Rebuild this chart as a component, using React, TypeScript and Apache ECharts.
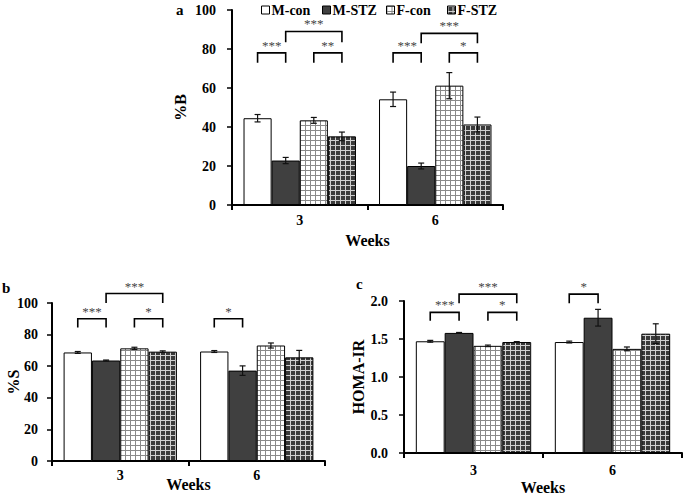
import React, { useEffect, useRef } from 'react';
import * as echarts from 'echarts';

const weeks = ['3', '6'];
const groups = ['M-con', 'M-STZ', 'F-con', 'F-STZ'];

// Panel a: %B (mean per group, for weeks 3 and 6)
const pctBMean = [[44.5, 54.2], [22.8, 20.0], [43.4, 61.2], [35.2, 41.3]];
const pctBErr = [[1.9, 3.7], [1.6, 1.5], [1.5, 6.7], [2.2, 3.8]];
// Panel b: %S
const pctSMean = [[68.7, 69.3], [63.6, 57.2], [71.3, 73.1], [69.2, 65.6]];
const pctSErr = [[0.6, 0.6], [0.3, 3.0], [0.7, 1.6], [0.5, 4.4]];
// Panel c: HOMA-IR
const homaMean = [[1.47, 1.46], [1.58, 1.78], [1.41, 1.37], [1.46, 1.57]];
const homaErr = [[0.012, 0.012], [0.006, 0.11], [0.01, 0.025], [0.006, 0.13]];

// significance brackets: [week index, bar from, bar to, top, leg end, label]
const bracketsA: [number, number, number, number, number, string][] = [
  [0, 0, 1, 78, 73, '***'], [0, 2, 3, 78, 73, '**'], [0, 1, 3, 89, 83.5, '***'],
  [1, 0, 1, 78, 73, '***'], [1, 2, 3, 78, 73, '*'], [1, 1, 3, 88, 83, '***'],
];
const bracketsB: [number, number, number, number, number, string][] = [
  [0, 0, 1, 90, 84.5, '***'], [0, 2, 3, 90, 84.5, '*'], [0, 1, 3, 106, 100, '***'],
  [1, 0, 1, 90, 84.5, '*'],
];
const bracketsC: [number, number, number, number, number, string][] = [
  [0, 0, 1, 1.85, 1.74, '***'], [0, 2, 3, 1.85, 1.74, '*'], [0, 1, 3, 2.09, 1.97, '***'],
  [1, 0, 1, 2.09, 1.97, '*'],
];

const GAP = 0.17;
const FONT = '"Liberation Serif", "Times New Roman", serif';

function makePattern(bg: string, line: string) {
  const c = document.createElement('canvas');
  c.width = 5; c.height = 5;
  const ctx = c.getContext('2d')!;
  ctx.fillStyle = bg; ctx.fillRect(0, 0, 5, 5);
  ctx.fillStyle = line;
  ctx.fillRect(0, 0, 5, 1);
  ctx.fillRect(0, 0, 1, 5);
  return { image: c, repeat: 'repeat', imageWidth: 5, imageHeight: 5 } as any;
}

export default function App() {
  const ref = useRef<HTMLDivElement>(null);
  useEffect(() => {
    if (!ref.current) return;
    const chart = echarts.init(ref.current, undefined, { renderer: 'svg' });
    const fills: any[] = [
      '#ffffff',
      '#404040',
      makePattern('#ffffff', '#8a8a8a'),
      makePattern('#3a3a3a', '#d0d0d0'),
    ];
    const panels = [
      { mean: pctBMean, err: pctBErr, br: bracketsA, grid: { left: 232, top: 10, width: 271, height: 195 },
        name: '%B', nameGap: 44, max: 100, interval: 20, dec: 0, lblMargin: 8, weeksGap: 27, yMargin: 16 },
      { mean: pctSMean, err: pctSErr, br: bracketsB, grid: { left: 52, top: 303, width: 273, height: 158 },
        name: '%S', nameGap: 31, max: 100, interval: 20, dec: 0, lblMargin: 7, weeksGap: 15, yMargin: 14 },
      { mean: homaMean, err: homaErr, br: bracketsC, grid: { left: 404, top: 301, width: 278, height: 152 },
        name: 'HOMA-IR', nameGap: 38, max: 2, interval: 0.5, dec: 1, lblMargin: 10, weeksGap: 26, yMargin: 16 },
    ];
    const grid: any[] = [];
    const xAxis: any[] = [];
    const yAxis: any[] = [];
    const series: any[] = [];
    panels.forEach((p, pi) => {
      grid.push({ ...p.grid, containLabel: false, outerBoundsMode: 'none' });
      xAxis.push({
        type: 'category', gridIndex: pi, data: weeks,
        name: 'Weeks', nameLocation: 'middle', nameGap: p.weeksGap, nameMoveOverlap: false,
        nameTextStyle: { fontFamily: FONT, fontWeight: 'bold', fontSize: 16, color: '#000' },
        axisLine: { lineStyle: { color: '#000', width: 2 } },
        axisTick: { show: true, alignWithLabel: false, length: 5, lineStyle: { color: '#000', width: 2 } },
        axisLabel: { fontFamily: FONT, fontWeight: 'bold', fontSize: 14, color: '#000', margin: p.lblMargin },
        splitLine: { show: false },
      });
      yAxis.push({
        type: 'value', gridIndex: pi, min: 0, max: p.max, interval: p.interval,
        name: p.name, nameLocation: 'middle', nameGap: p.nameGap, nameMoveOverlap: false,
        nameTextStyle: { fontFamily: FONT, fontWeight: 'bold', fontSize: 16, color: '#000' },
        axisLine: { show: true, lineStyle: { color: '#000', width: 2 } },
        axisTick: { show: true, length: 5, lineStyle: { color: '#000', width: 1.5 } },
        axisLabel: { fontFamily: FONT, fontWeight: 'bold', fontSize: 14, color: '#000', margin: p.yMargin,
          formatter: (v: number) => v.toFixed(p.dec) },
        splitLine: { show: false },
      });
      groups.forEach((g, gi) => {
        series.push({
          type: 'bar', name: g, xAxisIndex: pi, yAxisIndex: pi,
          data: p.mean[gi], barGap: '0%', barCategoryGap: GAP * 100 + '%',
          itemStyle: { color: fills[gi], borderColor: '#000', borderWidth: 1 },
          z: 2,
        });
      });
      const errData: number[][] = [];
      groups.forEach((g, gi) => {
        weeks.forEach((w, wi) => {
          errData.push([wi, gi, p.mean[gi][wi] - p.err[gi][wi], p.mean[gi][wi] + p.err[gi][wi]]);
        });
      });
      series.push({
        type: 'custom', xAxisIndex: pi, yAxisIndex: pi, z: 4, silent: true,
        encode: { x: 0, y: 2 },
        data: errData,
        renderItem: (params: any, api: any) => {
          const cat = api.value(0), idx = api.value(1), lo = api.value(2), hi = api.value(3);
          const band = api.size([1, 0])[0];
          const bw = (band * (1 - GAP)) / 4;
          const pLo = api.coord([cat, lo]);
          const pHi = api.coord([cat, hi]);
          const x = pLo[0] + (idx - 1.5) * bw;
          const cap = 3;
          const st = { stroke: '#111', lineWidth: 1.2 };
          return {
            type: 'group', children: [
              { type: 'line', shape: { x1: x, y1: pLo[1], x2: x, y2: pHi[1] }, style: st },
              { type: 'line', shape: { x1: x - cap, y1: pLo[1], x2: x + cap, y2: pLo[1] }, style: st },
              { type: 'line', shape: { x1: x - cap, y1: pHi[1], x2: x + cap, y2: pHi[1] }, style: st },
            ],
          };
        },
      });
      const br = p.br;
      series.push({
        type: 'custom', xAxisIndex: pi, yAxisIndex: pi, z: 5, silent: true, clip: false,
        encode: { x: 0, y: 1 },
        data: br.map((b) => [b[0], b[3]]),
        renderItem: (params: any, api: any) => {
          const b = br[params.dataIndex];
          const band = api.size([1, 0])[0];
          const bw = (band * (1 - GAP)) / 4;
          const pTop = api.coord([b[0], b[3]]);
          const pLeg = api.coord([b[0], b[4]]);
          const x1 = pTop[0] + (b[1] - 1.5) * bw;
          const x2 = pTop[0] + (b[2] - 1.5) * bw;
          return {
            type: 'group', children: [
              { type: 'polyline', shape: { points: [[x1, pLeg[1]], [x1, pTop[1]], [x2, pTop[1]], [x2, pLeg[1]]] },
                style: { stroke: '#000', lineWidth: 1.6, fill: null } },
              { type: 'text', x: (x1 + x2) / 2, y: pTop[1] - 1,
                style: { text: b[5], fontFamily: FONT, fontSize: 13, fill: '#444', align: 'center', verticalAlign: 'bottom' } },
            ],
          };
        },
      });
    });
    const legendLefts = [261, 322, 386, 447];
    const legend = groups.map((g, gi) => ({
      data: [g], left: legendLefts[gi], top: 3, padding: 0,
      itemWidth: 8, itemHeight: 8, icon: 'rect', selectedMode: false,
      itemStyle: { borderColor: '#000', borderWidth: 1 },
      textStyle: { fontFamily: FONT, fontWeight: 'bold', fontSize: 14, color: '#000', padding: [0, 0, 0, -3] },
    }));
    chart.setOption({
      animation: false,
      backgroundColor: '#fff',
      legend,
      grid,
      xAxis,
      yAxis,
      series,
      graphic: [
        { type: 'text', left: 176, top: 2, style: { text: 'a', fontFamily: FONT, fontWeight: 'bold', fontSize: 15, fill: '#000' } },
        { type: 'text', left: 2, top: 280, style: { text: 'b', fontFamily: FONT, fontWeight: 'bold', fontSize: 15, fill: '#000' } },
        { type: 'text', left: 356, top: 276, style: { text: 'c', fontFamily: FONT, fontWeight: 'bold', fontSize: 15, fill: '#000' } },
      ],
    });
    return () => chart.dispose();
  }, []);
  return <div ref={ref} style={{ position: 'fixed', left: 0, top: 0, width: 685, height: 502, background: '#fff' }} />;
}
